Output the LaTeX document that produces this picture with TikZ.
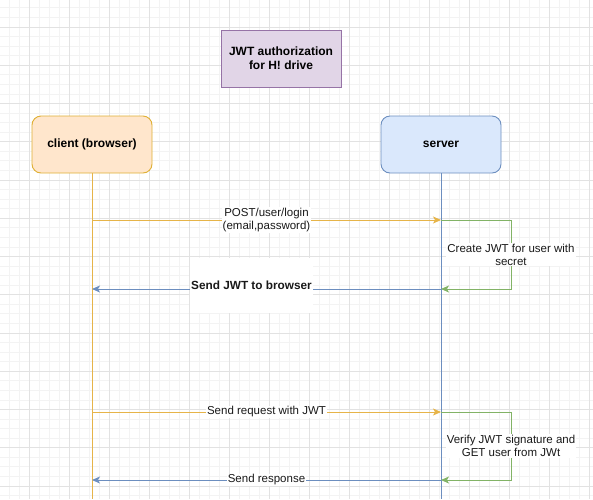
\documentclass[tikz,border=0pt]{standalone}
\usepackage{fontspec}
\setmainfont{Liberation Sans}
\usepackage{xcolor}
\usepackage{tikz}
\usetikzlibrary{positioning, arrows.meta, calc}
\definecolor{gridminor}{HTML}{F3F3F3}
\definecolor{gridmajor}{HTML}{E2E2E2}
\definecolor{orangeline}{HTML}{E6B449}
\definecolor{blueline}{HTML}{6C8EBF}
\definecolor{greenline}{HTML}{82B366}
\definecolor{clientfill}{HTML}{FFE6CC}
\definecolor{clientdraw}{HTML}{D79B00}
\definecolor{serverfill}{HTML}{DAE8FC}
\definecolor{notefill}{HTML}{E1D5E7}
\definecolor{notedraw}{HTML}{9673A6}
\tikzset{
    actor/.style={rounded corners=9pt, draw, line width=0.9pt, minimum width=120pt, minimum height=57pt, font=\fontsize{12}{14}\selectfont\bfseries},
    msg/.style={line width=1pt, -{Stealth[length=8pt, width=7pt, inset=2pt]}},
    msglabel/.style={fill=white, inner sep=1pt, align=center, font=\fontsize{11.5}{13}\selectfont, text=black!90}
}

\begin{document}
\begin{tikzpicture}[
    x=1pt, y=-1pt,
    minor/.style={gridminor, line width=0.8pt},
    major/.style={gridmajor, line width=1pt},
    lifeline/.style={line width=1pt}
]
    \useasboundingbox (0,0) rectangle (593,499);

    % --- Background grid ---
    \foreach \i in {-2,...,56}
        \draw[minor] ({29+10*\i},0) -- ({29+10*\i},499);
    \foreach \j in {-2,...,49}
        \draw[minor] (0,{27+9.5625*\j}) -- (593,{27+9.5625*\j});
    \foreach \i in {0,...,14}
        \draw[major] ({29+40*\i},0) -- ({29+40*\i},499);
    \foreach \j in {0,...,12}
        \draw[major] (0,{27+38.25*\j}) -- (593,{27+38.25*\j});

    % --- Title and participants ---
    \node[draw=notedraw, fill=notefill, line width=0.9pt, minimum width=120pt, minimum height=57pt,
          align=center, font=\fontsize{12}{14}\selectfont\bfseries] (title) at (281,58.5)
          {JWT authorization\\for H! drive};
    \node[actor, draw=clientdraw!80, fill=clientfill] (client) at (92,144.5) {client (browser)};
    \node[actor, draw=blueline, fill=serverfill] (server) at (441,144.5) {server};

    % Lifelines
    \coordinate (cend) at (92,499);
    \coordinate (send) at (441,499);
    \draw[lifeline, orangeline] (client) -- (cend);
    \draw[lifeline, blueline] (server) -- (send);

    % Message points on the lifelines
    \foreach \n/\y in {1/220, 2/289, 3/412, 4/480} {
        \coordinate (c\n) at (92,\y);
        \coordinate (s\n) at (441,\y);
    }

    % --- Login ---
    \draw[msg, orangeline] (c1) -- node[msglabel] {POST/user/login\\(email,password)} (s1);
    \draw[msg, greenline] (s1) -- ++(70,0) |- node[msglabel, pos=0.25] {Create JWT for user with\\secret} (s2);
    \draw[msg, blueline] (s2) -- node[msglabel, pos=0.543, yshift=3.5pt, minimum width=123pt, minimum height=55pt,
          font=\fontsize{11.8}{13}\selectfont\bfseries] {Send JWT to browser} (c2);

    % --- Request with token ---
    \draw[msg, orangeline] (c3) -- node[msglabel] {Send request with JWT} (s3);
    \draw[msg, greenline] (s3) -- ++(70,0) |- node[msglabel, pos=0.25] {Verify JWT signature and\\GET user from JWt} (s4);
    \draw[msg, blueline] (s4) -- node[msglabel] {Send response} (c4);

\end{tikzpicture}
\end{document}
